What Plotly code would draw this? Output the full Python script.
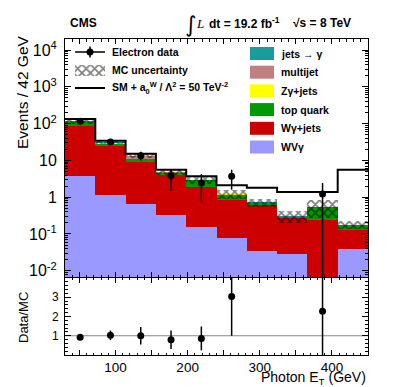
import numpy as np
import plotly.graph_objects as go

# photon E_T binning, 42 GeV per bin
edges = [30, 72, 114, 156, 198, 240, 282, 324, 366, 408, 450]

# stacked backgrounds, events per bin (bottom of stack first)
wvg = [3.8, 1.15, 0.66, 0.335, 0.15, 0.078, 0.035, 0.029, 0.005, 0.039]
wg_jets = [84.2, 23.9, 8.3, 3.56, 1.75, 0.74, 0.565, 0.25, 0.24, 0.092]
top_quark = [20.0, 3.4, 1.8, 0.6, 1.0, 0.35, 0.10, 0.005, 0.285, 0.041]
zg_jets = [2.0, 0.8, 0.3, 0.1, 0.05, 0.02, 0.01, 0.005, 0.005, 0.003]
multijet = [1.5, 0.8, 2.0, 0.1, 0.02, 0.0, 0.0, 0.0, 0.0, 0.0]
jets_to_gamma = [3.5, 0.8, 0.3, 0.1, 0.03, 0.02, 0.01, 0.02, 0.01, 0.005]
mc_unc = [18, 3.6, 1.9, 0.8, 0.7, 0.33, 0.19, 0.11, 0.28, 0.04]
sm_aqgc = [133, 34.3, 15.2, 5.6, 3.7, 2.1, 1.81, 1.38, 1.38, 5.6]

# electron data
data = [116, 31.6, 13.4, 3.8, 2.43, 3.7, None, None, 1.22, None]
data_err_up = [11, 5.6, 3.7, 1.8, 1.8, 1.9, None, None, 1.2, None]
data_err_dn = [11, 5.6, 3.5, 2.3, 1.7, 2.1, None, None, 1.219, None]

# data / MC
ratio = [0.92, 1.02, 1.0, 0.79, 0.86, 3.04, None, None, 2.27, None]
ratio_err_up = [0.1, 0.25, 0.45, 0.48, 0.62, 2.5, None, None, 2.5, None]
ratio_err_dn = [0.1, 0.25, 0.45, 0.48, 0.62, 2.04, None, None, 2.5, None]

FONT = "Liberation Sans, Arial, sans-serif"

edges_a = np.array(edges, dtype=float)
centers = 0.5 * (edges_a[:-1] + edges_a[1:])
widths = np.diff(edges_a)

layers = [
    ("WVγ", wvg, "#9999ff"),
    ("Wγ+jets", wg_jets, "#cc0000"),
    ("top quark", top_quark, "#009a00"),
    ("Zγ+jets", zg_jets, "#ffff00"),
    ("multijet", multijet, "#c08080"),
    ("jets → γ", jets_to_gamma, "#1a9c9c"),
]
cum = np.cumsum(np.array([l[1] for l in layers], dtype=float), axis=0)
total = cum[-1]

fig = go.Figure()

# draw the stack from the top layer down so the lower ones cover it
for i in range(len(layers) - 1, -1, -1):
    fig.add_trace(go.Bar(x=centers, y=cum[i], width=widths, marker_color=layers[i][2],
                         marker_line_width=0, xaxis="x", yaxis="y"))

unc = np.array(mc_unc, dtype=float)
fig.add_trace(go.Bar(x=centers, y=2 * unc, base=total - unc, width=widths,
                     marker=dict(color="rgba(0,0,0,0)", line_width=0,
                                 pattern=dict(shape="x", fgcolor="black", bgcolor="rgba(0,0,0,0)",
                                              size=6, solidity=0.5, fillmode="overlay")),
                     xaxis="x", yaxis="y"))

fig.add_trace(go.Scatter(x=edges, y=sm_aqgc + [sm_aqgc[-1]], mode="lines", line_shape="hv",
                         line=dict(color="black", width=2), xaxis="x", yaxis="y"))

fig.add_trace(go.Scatter(x=centers, y=data, mode="markers",
                         marker=dict(color="black", size=7),
                         error_y=dict(type="data", symmetric=False, array=data_err_up,
                                      arrayminus=data_err_dn, color="black", thickness=1.5, width=0),
                         xaxis="x", yaxis="y"))

fig.add_trace(go.Scatter(x=centers, y=ratio, mode="markers",
                         marker=dict(color="black", size=7),
                         error_y=dict(type="data", symmetric=False, array=ratio_err_up,
                                      arrayminus=ratio_err_dn, color="black", thickness=1.5, width=0),
                         xaxis="x2", yaxis="y2"))

# legend glyphs on an overlay axis in pixel units
def lg(x, y, **kw):
    fig.add_trace(go.Scatter(x=x, y=y, xaxis="x3", yaxis="y3", hoverinfo="skip", **kw))

lg([67, 97], [44, 44], mode="lines", line=dict(color="black", width=1.5))
lg([82, 82], [38.5, 49.5], mode="lines", line=dict(color="black", width=1.5))
lg([82], [44], mode="markers", marker=dict(color="black", size=7))
lg([67, 97, 97, 67, 67], [57, 57, 68, 68, 57], mode="lines", line=dict(width=0), fill="toself",
   fillcolor="white", fillpattern=dict(shape="x", fgcolor="black", bgcolor="white", size=6, solidity=0.5))
lg([67, 97], [80, 80], mode="lines", line=dict(color="black", width=2))

legend_order = list(reversed(layers))
for k, (name, _, col) in enumerate(legend_order):
    yc = 45.5 + 18.7 * k
    lg([242, 266, 266, 242, 242], [yc - 6.5, yc - 6.5, yc + 6.5, yc + 6.5, yc - 6.5], mode="lines",
       line=dict(width=0), fill="toself", fillcolor=col)


def pxx(x):
    return (x - 57) / 303


def pxy(y):
    return (347 - y) / 316


ann = []


def text(x, y, s, size, xanchor="left", angle=0, family=FONT):
    ann.append(dict(x=pxx(x), y=pxy(y), xref="paper", yref="paper", text=s, showarrow=False,
                    xanchor=xanchor, yanchor="middle", textangle=angle,
                    font=dict(family=family, size=size, color="black")))


text(102, 44, "<b>Electron data</b>", 10.5)
text(102, 62, "<b>MC uncertainty</b>", 10.5)
text(102, 80, "<b>SM + a<sub>0</sub><sup>W</sup> / Λ<sup>2</sup> = 50 TeV<sup>-2</sup></b>", 10.5)
for k, (name, _, col) in enumerate(legend_order):
    text(271, 45.5 + 18.7 * k, "<b>" + name + "</b>", 10.5)

text(60, 15, "<b>CMS</b>", 12)
text(175, 17, "∫", 22, family="DejaVu Sans")
text(186, 16, "<i>L</i>", 13, family="Liberation Serif")
text(199, 15, "<b>dt = 19.2 fb<sup>-1</sup></b>", 12)
text(283, 15, "<b>√s = 8 TeV</b>", 12)

text(14, 84, "Events / 42 GeV", 15.5, xanchor="center", angle=-90)
text(15, 309, "Data/MC", 13, xanchor="center", angle=-90)
text(360, 370, "Photon E<sub>T</sub> (GeV)", 14, xanchor="right")

decades = [1e-2, 1e-1, 1, 10, 1e2, 1e3, 1e4]
dec_txt = ["10<sup>-2</sup>", "10<sup>-1</sup>", "1", "10", "10<sup>2</sup>", "10<sup>3</sup>", "10<sup>4</sup>"]
minor_y = [m * d for d in [1e-3] + decades for m in range(2, 10)]

xticks = list(range(50, 451, 50))
xtext = [str(v) if v % 100 == 0 else "" for v in xticks]

axis_common = dict(showline=True, linecolor="black", linewidth=1, mirror="allticks", ticks="inside",
                   showgrid=False, zeroline=False, tickcolor="black")

fig.update_layout(
    width=399, height=387,
    margin=dict(l=57, r=39, t=31, b=40),
    paper_bgcolor="white", plot_bgcolor="white",
    showlegend=False, barmode="overlay", bargap=0,
    font=dict(family=FONT, color="black"),
    xaxis=dict(domain=[0, 1], anchor="y", range=[30, 450], tickvals=xticks, showticklabels=False,
               ticklen=5, minor=dict(dtick=10, tick0=0, ticks="inside", ticklen=2.5, tickcolor="black"),
               **axis_common),
    yaxis=dict(domain=[0.2468, 1], anchor="x", type="log", range=[-2.17, 4.3], tickvals=decades,
               ticktext=dec_txt, ticklen=6, tickfont=dict(size=16), ticklabelstandoff=4,
               minor=dict(tickvals=minor_y, ticks="inside", ticklen=3, tickcolor="black"),
               **axis_common),
    xaxis2=dict(domain=[0, 1], anchor="y2", range=[30, 450], tickvals=xticks, ticktext=xtext,
                ticklen=5, tickfont=dict(size=13.5), ticklabelstandoff=0,
                minor=dict(dtick=10, tick0=0, ticks="inside", ticklen=2.5, tickcolor="black"),
                **axis_common),
    yaxis2=dict(domain=[0, 0.2437], anchor="x2", range=[0, 4], tickvals=[1, 2, 3], ticklen=6,
                tickfont=dict(size=12), ticklabelstandoff=3,
                minor=dict(dtick=0.2, tick0=0, ticks="inside", ticklen=3, tickcolor="black"),
                **axis_common),
    xaxis3=dict(overlaying="x", anchor="y3", range=[57, 360], visible=False),
    yaxis3=dict(overlaying="y", anchor="x3", range=[269, 31], visible=False),
    annotations=ann,
    shapes=[dict(type="line", xref="x2 domain", yref="y2", x0=0, x1=1, y0=1, y1=1,
                 line=dict(color="#888888", width=1), layer="below")],
)

fig.write_html("out.html")
